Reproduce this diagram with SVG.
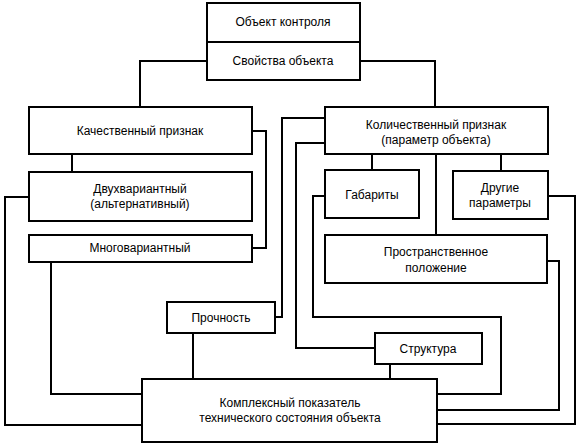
<svg xmlns="http://www.w3.org/2000/svg" width="580" height="445" viewBox="0 0 580 445">
<style>
.b{fill:#fff;stroke:#000;stroke-width:2}
.c{fill:none;stroke:#000;stroke-width:2}
text{font-family:"Liberation Sans",Arial,sans-serif;font-size:12px;fill:#000;text-anchor:middle}
</style>
<rect width="580" height="445" fill="#fff"/>
<g id="connectors">
<polyline class="c" points="207,61 140,61 140,107"/>
<polyline class="c" points="360,61 435,61 435,107"/>
<polyline class="c" points="72,154 72,172"/>
<polyline class="c" points="252,131 266,131 266,248 252,248"/>
<polyline class="c" points="29,197 5,197 5,425 142,425"/>
<polyline class="c" points="51,262 51,394 142,394"/>
<polyline class="c" points="193,333 193,379"/>
<polyline class="c" points="325,118 282,118 282,317 275,317"/>
<polyline class="c" points="325,143 296,143 296,348 375,348"/>
<polyline class="c" points="390,364 390,379"/>
<polyline class="c" points="372,154 372,170"/>
<polyline class="c" points="436,154 436,235"/>
<polyline class="c" points="501,154 501,171"/>
<polyline class="c" points="325,196 313,196 313,317 501,317 501,394 437,394"/>
<polyline class="c" points="547,261 559,261 559,410 437,410"/>
<polyline class="c" points="548,196 575,196 575,424 437,424"/>
</g>
<g id="object"><rect class="b" x="207" y="3" width="153" height="39"/><text x="283" y="26">Объект контроля</text></g>
<g id="properties"><rect class="b" x="207" y="42" width="153" height="38"/><text x="283" y="65">Свойства объекта</text></g>
<g id="qualitative"><rect class="b" x="29" y="107" width="223" height="47"/><text x="140" y="135">Качественный признак</text></g>
<g id="quantitative"><rect class="b" x="325" y="107" width="223" height="47"/><text x="436" y="129">Количественный признак</text><text x="436" y="144">(параметр объекта)</text></g>
<g id="twovariant"><rect class="b" x="29" y="172" width="223" height="49"/><text x="140" y="193">Двухвариантный</text><text x="140" y="208">(альтернативный)</text></g>
<g id="multivariant"><rect class="b" x="29" y="235" width="223" height="27"/><text x="140" y="252">Многовариантный</text></g>
<g id="dimensions"><rect class="b" x="325" y="170" width="94" height="48"/><text x="372" y="199">Габариты</text></g>
<g id="other"><rect class="b" x="453" y="171" width="95" height="48"/><text x="500" y="192">Другие</text><text x="500" y="207">параметры</text></g>
<g id="position"><rect class="b" x="325" y="235" width="222" height="48"/><text x="436" y="256">Пространственное</text><text x="436" y="272">положение</text></g>
<g id="strength"><rect class="b" x="167" y="302" width="108" height="31"/><text x="221" y="322">Прочность</text></g>
<g id="structure"><rect class="b" x="375" y="333" width="107" height="31"/><text x="428" y="353">Структура</text></g>
<g id="complex"><rect class="b" x="142" y="379" width="295" height="63"/><text x="290" y="407">Комплексный показатель</text><text x="290" y="422">технического состояния объекта</text></g>
</svg>
